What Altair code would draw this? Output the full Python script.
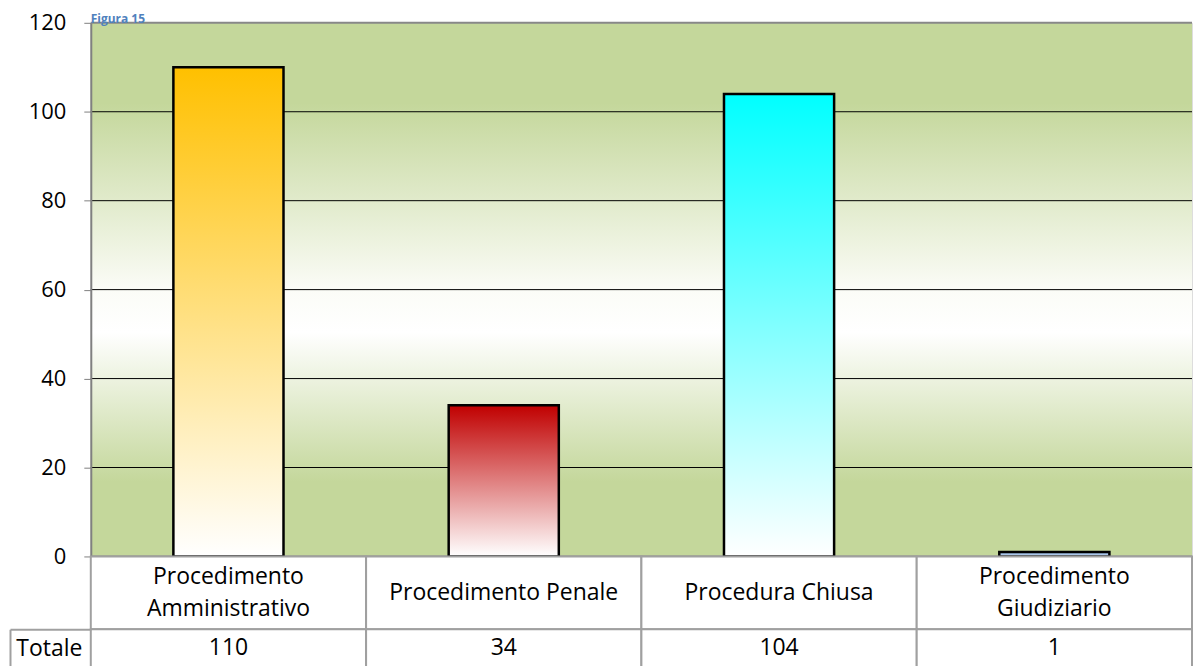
import altair as alt
import pandas as pd

# ---- data ----
categories = ["Procedimento Amministrativo", "Procedimento Penale",
              "Procedura Chiusa", "Procedimento Giudiziario"]
category_lines = [["Procedimento", "Amministrativo"], ["Procedimento Penale"],
                  ["Procedura Chiusa"], ["Procedimento", "Giudiziario"]]
values = [110, 34, 104, 1]
bar_top_colors = ["#FFC000", "#C00000", "#00FFFF", "#8DB4E2"]
bar_bottom_colors = ["#FFFFFF", "#FFFFFF", "#FFFFFF", "#C6D9F1"]
y_ticks = [0, 20, 40, 60, 80, 100, 120]
inner_grid = [20, 40, 60, 80, 100]
edge_lines = [0, 120]
row_label = "Totale"
title_text = "Figura 15"

FONT = "Open Sans"
W, H = 1104, 535
ROW1_H, ROW2_H = 73, 38
GREEN = "#C4D79B"
LINE_GRAY = "#A0A0A0"
LINE_H = 32

df = pd.DataFrame({"cat": categories, "val": values, "lines": category_lines,
                   "row": [row_label] * len(categories)})


def grad(stops):
    return alt.LinearGradient(
        gradient="linear", x1=0, x2=0, y1=0, y2=1,
        stops=[alt.GradientStop(offset=o, color=c) for o, c in stops])


xscale = alt.Scale(domain=categories, paddingInner=0, paddingOuter=0)
yscale = alt.Scale(domain=[0, 120], nice=False)
yaxis = alt.Axis(values=y_ticks, title=None, grid=False, zindex=1,
                 domainColor="#808080", domainWidth=2,
                 tickColor="#808080", tickSize=7, tickWidth=1,
                 labelFont=FONT, labelFontSize=22, labelColor="black",
                 labelPadding=18)
xenc = alt.X("cat:N", scale=xscale, axis=None, sort=categories)

# plot background gradient (green -> white -> green)
bg = alt.Chart(pd.DataFrame({"lo": [0], "hi": [120]})).mark_rect(
    fill=grad([(0, GREEN), (0.15, GREEN), (0.5, "#FBFCF7"), (0.58, "#FFFFFF"),
               (0.86, GREEN), (1, GREEN)])
).encode(y=alt.Y("lo:Q", scale=yscale, axis=yaxis), y2="hi:Q")

grid = alt.Chart(pd.DataFrame({"t": inner_grid})).mark_rule(
    color="black", strokeWidth=1
).encode(y=alt.Y("t:Q", scale=yscale, axis=yaxis))

edges = alt.Chart(pd.DataFrame({"t": edge_lines})).mark_rule(
    color="#888888", strokeWidth=2
).encode(y=alt.Y("t:Q", scale=yscale, axis=yaxis))

bars = []
for cat, top_c, bot_c in zip(categories, bar_top_colors, bar_bottom_colors):
    bars.append(
        alt.Chart(df).transform_filter(alt.datum.cat == cat).mark_bar(
            fill=grad([(0, top_c), (1, bot_c)]), stroke="black", strokeWidth=2.5,
            width=alt.RelativeBandSize(0.4)
        ).encode(x=xenc, y=alt.Y("val:Q", scale=yscale, axis=yaxis))
    )

top = alt.layer(bg, grid, edges, *bars).properties(
    width=W, height=H,
    title=alt.TitleParams(title_text, anchor="start", frame="group", fontSize=12,
                          font=FONT, fontWeight="bold", color="#4F81BD", offset=-14)
)

# ---- data table ----
band0 = alt.Scale(paddingInner=0, paddingOuter=0)
yrow1 = alt.Y("row:N", scale=band0, axis=None)

cells1 = alt.Chart(df).mark_rect(fill="white", stroke=LINE_GRAY, strokeWidth=2).encode(
    x=xenc)
text1a = alt.Chart(df).transform_filter("length(datum.lines) == 1").mark_text(
    font=FONT, fontSize=23, lineHeight=LINE_H, color="black"
).encode(x=xenc, y=yrow1, text="lines")
text1b = alt.Chart(df).transform_filter("length(datum.lines) == 2").mark_text(
    font=FONT, fontSize=23, lineHeight=LINE_H, color="black", dy=-LINE_H / 2
).encode(x=xenc, y=yrow1, text="lines")
catrow = alt.layer(cells1, text1a, text1b).properties(width=W, height=ROW1_H)

total_axis = alt.Axis(title=None, orient="left", offset=81,
                      domain=True, domainColor=LINE_GRAY, domainWidth=2,
                      ticks=True, tickBand="extent", tickSize=alt.ExprRef(expr="-81"),
                      tickColor=LINE_GRAY, tickWidth=2,
                      labelFont=FONT, labelFontSize=23, labelColor="black",
                      labelPadding=9, labelAlign="right")
yrow = alt.Y("row:N", scale=band0, axis=total_axis)
cells2 = alt.Chart(df).mark_rect(fill="white", stroke=LINE_GRAY, strokeWidth=2).encode(
    x=xenc, y=yrow)
text2 = alt.Chart(df).mark_text(font=FONT, fontSize=23, color="black").encode(
    x=xenc, y=yrow, text="val:Q")
valrow = alt.layer(cells2, text2).properties(width=W, height=ROW2_H)

chart = alt.vconcat(top, catrow, valrow, spacing=0, bounds="flush").properties(
    padding={"top": 2, "left": 0, "right": 0, "bottom": 0}
).configure_view(stroke=None).configure(font=FONT)

chart.save("out.html", embed_options={"renderer": "svg", "actions": False})
